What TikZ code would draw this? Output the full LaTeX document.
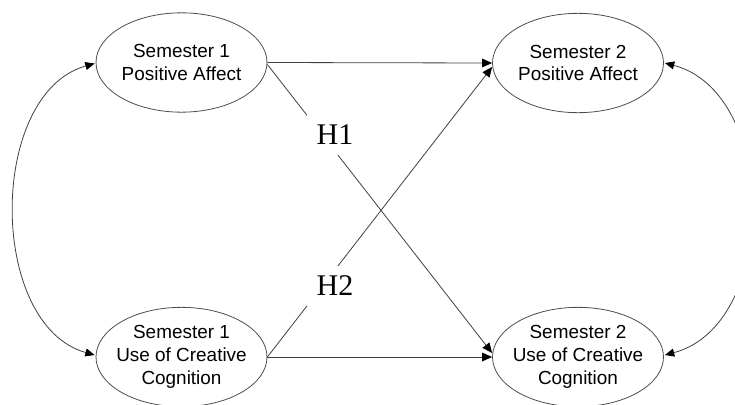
\documentclass[tikz,border=0pt]{standalone}
\usepackage{fontspec}
\setmainfont{Liberation Sans}
\newfontfamily\hfont{Liberation Serif}
\usetikzlibrary{shapes.geometric,arrows.meta,calc}
\begin{document}
\begin{tikzpicture}[x=0.75pt,y=-0.75pt,
  latent/.style={ellipse, draw=black!70, line width=0.6pt, minimum width=128.25pt,
    minimum height=74.5pt, inner sep=0pt},
  lbl/.style={align=center, inner sep=0pt, font=\fontsize{14.2}{17}\selectfont},
  regarrow/.style={draw=black!75, line width=0.6pt,
    -{Triangle[length=7.5pt,width=6.5pt,color=black]}},
  covarrow/.style={draw=black!75, line width=0.6pt,
    {Triangle[length=7pt,width=6pt,color=black]}-{Triangle[length=7pt,width=6pt,color=black]}},
  hyp/.style={fill=white, inner xsep=7.5pt, inner ysep=7.5pt,
    font=\hfont\fontsize{22.5}{27}\selectfont}]
\useasboundingbox (0,0) rectangle (735,404);
\clip (0,0) rectangle (735,404);

\node[latent] (tl) at (181.5,62.5) {};
\node[latent] (tr) at (578,63) {};
\node[latent] (bl) at (181.5,357) {};
\node[latent] (br) at (578,357) {};
\node[lbl] (tlt) at (tl) {Semester 1\\Positive Affect};
\node[lbl] (trt) at (tr) {Semester 2\\Positive Affect};
\node[lbl] (blt) at (bl) {Semester 1\\Use of Creative\\Cognition};
\node[lbl] (brt) at (br) {Semester 2\\Use of Creative\\Cognition};

\draw[regarrow] (tl.east) -- (tr.west);
\draw[regarrow] ($(tl.east)+(0,2)$) -- ($(br.west)+(0,-4)$);
\draw[regarrow] (bl.east) -- ($(tr.west)+(0,4)$);
\draw[regarrow] (bl.east) -- (br.west);

\draw[covarrow] ($(tl.west)+(-1,1)$) .. controls +(-107,30) and +(-107,-30) .. ($(bl.west)+(-1,-2)$);
\draw[covarrow] ($(tr.east)+(1,0)$) .. controls +(114,30) and +(114,-30) .. ($(br.east)+(1,-2)$);

\node[hyp] (h1) at (335,135) {H1};
\node[hyp] (h2) at (335,286) {H2};
\end{tikzpicture}
\end{document}
